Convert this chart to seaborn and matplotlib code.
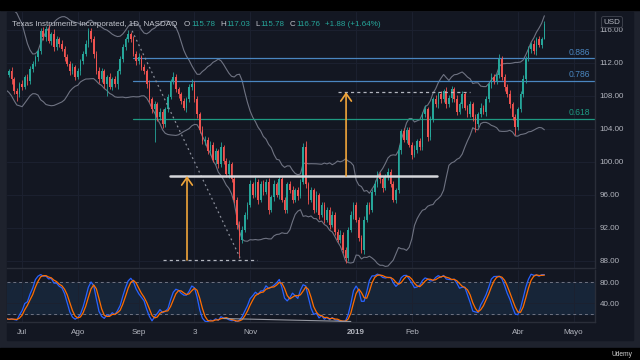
import numpy as np
import pandas as pd
import matplotlib.pyplot as plt
from matplotlib.patches import Rectangle
import seaborn as sns

BG = "#131722"
FRAME = "#1e222d"
GRID = "#1c2130"
SEP = "#2a2e39"
TXT = "#b2b5be"
UP = "#26a69a"
DN = "#ef5350"
ORANGE = "#f0a53a"
FIB_BLUE = "#4a86c0"
FIB_GREEN = "#1e9a82"

# daily bars, bar 0 = 18 Jun 2018, last bar = 15 Apr 2019
# 15 bars before bar 0 only feed the Bollinger / stochastic windows
hist_close = [113.5, 114.8, 115.9, 116.4, 117.2, 116.5, 117.8, 116.9, 115.2, 114.0,
              112.6, 111.3, 112.4, 110.9, 111.8]
hist_wick = [0.5, 0.6, 0.4, 0.7, 0.5, 0.6, 0.4, 0.5, 0.7, 0.5, 0.6, 0.4, 0.5, 0.6, 0.5]

close = [
    112.0, 110.8, 111.5, 110.2, 110.6, 111.0, 110.0, 108.6, 108.2, 109.4,
    109.1, 110.3, 109.8, 111.3, 111.9, 112.7, 113.4, 115.9, 115.1, 116.1,
    114.7, 115.5, 113.9, 114.9, 114.3, 113.7, 112.7, 111.9, 111.0, 111.5,
    110.3, 111.0, 112.2, 113.1, 114.3, 115.9, 114.9, 113.1, 111.0, 110.0,
    111.0, 109.4, 110.3, 109.1, 110.0, 109.4, 111.0, 112.5, 113.9, 114.9,
    115.5, 114.9, 113.1, 112.2, 112.7, 111.5, 111.0, 109.4, 107.6, 106.4,
    107.0, 105.4, 106.1, 104.6, 106.4, 107.9, 109.8, 110.3, 108.8, 108.2,
    107.4, 106.6, 107.6, 109.1, 109.5, 107.6, 105.8, 103.9, 102.5, 102.7,
    101.3, 102.1, 100.3, 101.3, 99.7, 101.8, 100.1, 98.5, 99.7, 97.9,
    95.4, 92.4, 90.6, 91.8, 93.6, 94.8, 97.3, 96.0, 97.6, 95.4,
    97.3, 96.4, 97.6, 94.2, 95.7, 97.3, 96.0, 97.9, 95.4, 94.2,
    97.3, 96.6, 95.4, 96.6, 95.9, 97.6, 101.8, 97.3, 95.4, 96.6,
    94.2, 96.0, 93.6, 94.8, 93.0, 94.2, 92.4, 93.6, 91.5, 90.6,
    91.2, 89.3, 88.4, 91.8, 93.6, 94.8, 93.0, 90.8, 89.3, 93.0,
    94.8, 94.2, 96.4, 97.3, 98.5, 97.9, 96.9, 98.2, 98.8, 97.3,
    95.4, 96.6, 101.5, 103.7, 102.7, 103.9, 102.1, 100.9, 101.5, 102.5,
    101.8, 105.8, 106.4, 103.0, 105.2, 107.6, 107.0, 108.2, 107.6, 108.6,
    107.0, 107.8, 108.8, 107.6, 106.1, 107.0, 108.2, 106.6, 105.8, 107.0,
    105.4, 104.6, 105.8, 106.6, 106.1, 107.6, 109.4, 110.3, 109.8, 110.5,
    112.5, 110.3, 109.1, 108.2, 107.0, 105.4, 104.2, 106.4, 108.2, 110.0,
    112.5, 113.7, 114.3, 113.4, 114.9, 114.2, 114.88, 116.76,
]

wick_up = [
    0.4, 0.6, 0.3, 0.5, 0.4, 0.3, 0.5, 0.3, 0.4, 0.3,
    0.5, 0.3, 0.4, 0.3, 0.4, 0.3, 0.3, 0.4, 0.5, 0.4,
    0.5, 0.3, 0.6, 0.4, 0.3, 0.5, 0.3, 0.4, 0.3, 0.5,
    0.3, 0.4, 0.3, 0.3, 0.5, 0.4, 0.3, 0.4, 0.3, 0.5,
    0.4, 0.3, 0.3, 0.5, 0.3, 0.4, 0.3, 0.3, 0.4, 0.3,
    0.5, 0.3, 0.4, 0.3, 0.5, 0.3, 0.4, 0.3, 0.5, 0.3,
    0.4, 0.3, 0.5, 0.3, 0.3, 0.4, 0.3, 0.6, 0.4, 0.3,
    0.3, 0.4, 0.3, 0.4, 0.5, 0.3, 0.4, 0.3, 0.5, 0.4,
    0.3, 0.5, 0.3, 0.4, 0.3, 0.6, 0.3, 0.4, 0.5, 0.3,
    0.4, 0.3, 0.4, 0.5, 0.3, 0.4, 0.5, 0.3, 0.6, 0.3,
    0.4, 0.5, 0.3, 0.4, 0.3, 0.5, 0.3, 0.4, 0.3, 0.4,
    0.3, 0.4, 0.5, 0.3, 0.4, 0.3, 0.5, 0.7, 0.3, 0.4,
    0.3, 0.5, 0.3, 0.4, 0.3, 0.4, 0.3, 0.5, 0.3, 0.4,
    0.5, 0.3, 0.4, 0.3, 0.5, 0.3, 0.4, 0.3, 0.3, 0.5,
    0.3, 0.4, 0.3, 0.5, 0.4, 0.3, 0.4, 0.3, 0.5, 0.3,
    0.4, 0.3, 0.5, 0.3, 0.4, 0.3, 0.4, 0.3, 0.5, 0.3,
    0.4, 0.3, 0.5, 0.3, 0.4, 0.3, 0.5, 0.3, 0.4, 0.3,
    0.5, 0.3, 0.4, 0.3, 0.5, 0.3, 0.4, 0.3, 0.3, 0.4,
    0.3, 0.4, 0.3, 0.5, 0.3, 0.4, 0.3, 0.5, 0.4, 0.3,
    0.6, 0.3, 0.4, 0.3, 0.5, 0.3, 0.4, 0.3, 0.4, 0.5,
    0.3, 0.4, 0.3, 0.5, 0.3, 0.4, 0.3, 0.27,
]

wick_dn = [
    0.3, 0.5, 0.4, 0.3, 0.4, 0.3, 0.5, 0.4, 0.8, 0.3,
    0.4, 0.3, 0.5, 0.3, 0.4, 0.3, 0.4, 0.3, 0.3, 0.4,
    0.3, 0.5, 0.4, 0.3, 0.4, 0.3, 0.5, 0.3, 0.4, 0.3,
    0.4, 0.3, 0.5, 0.3, 0.3, 0.4, 0.3, 0.5, 0.3, 0.4,
    0.3, 0.4, 1.4, 0.3, 0.4, 0.3, 0.5, 0.3, 0.4, 0.3,
    0.3, 0.4, 0.3, 0.5, 0.3, 0.4, 0.3, 0.4, 0.3, 0.5,
    4.0, 0.4, 0.3, 0.5, 0.3, 0.4, 0.3, 0.4, 0.3, 0.5,
    0.4, 0.3, 0.5, 0.3, 0.4, 0.3, 0.5, 0.4, 0.3, 0.4,
    0.3, 0.4, 0.3, 0.5, 0.4, 0.3, 0.4, 0.3, 0.5, 0.3,
    0.4, 0.5, 2.2, 0.4, 0.3, 0.5, 0.3, 0.4, 0.3, 0.5,
    0.3, 0.4, 0.3, 0.5, 0.3, 0.4, 0.3, 0.5, 0.3, 0.4,
    0.4, 0.3, 0.4, 0.3, 0.5, 0.3, 0.3, 0.4, 0.5, 0.3,
    0.4, 0.3, 0.5, 0.3, 0.4, 0.3, 0.5, 0.3, 0.4, 0.3,
    0.4, 0.3, 0.6, 0.4, 0.3, 0.5, 0.3, 0.4, 0.3, 0.4,
    0.3, 0.5, 0.3, 0.4, 0.3, 0.4, 0.5, 0.3, 0.4, 0.3,
    0.3, 0.4, 0.3, 0.5, 0.3, 0.4, 0.3, 0.5, 0.3, 0.4,
    0.3, 0.4, 0.3, 0.5, 0.3, 0.4, 0.3, 0.4, 0.5, 0.3,
    0.4, 0.3, 0.5, 0.3, 0.4, 0.3, 0.5, 0.3, 0.4, 0.3,
    0.4, 1.0, 0.3, 0.4, 0.3, 0.5, 0.3, 0.4, 0.3, 0.4,
    0.3, 0.4, 0.5, 0.3, 0.4, 0.3, 0.9, 0.3, 0.4, 0.3,
    0.4, 0.3, 0.5, 0.3, 0.4, 0.3, 0.4, 0.0,
]

month_pos = [10, 31, 54, 75, 96, 136, 157, 197, 218]
month_lab = ["Jul", "Ago", "Sep", "3", "Nov", "2019", "Feb", "Abr", "Mayo"]
price_ticks = [88, 92, 96, 100, 104, 108, 112, 116]
stoch_ticks = [40, 80]

fib_low, fib_high = 88.24, 115.70
fib_ratios = [0.886, 0.786, 0.618]
fib_colors = [FIB_BLUE, FIB_BLUE, FIB_GREEN]
fib_start = 51.9

neckline, base, target = 98.30, 88.12, 108.48
neck_span = (65.8, 166.5)
base_span = (63.2, 98.6)
target_span = (129.1, 178.9)
arrow_bars = (72.2, 132.2)
trend_from, trend_to = (51.5, 115.9), (92.2, 88.4)
diverg_from, diverg_to = (86.0, 10.5), (134.0, 4.8)

header = [("Texas Instruments Incorporated, 1D, NASDAQ", "name", 6.0),
          ("O", "name", 0.8), ("115.78", "val", 5.0),
          ("H", "name", 0.8), ("117.03", "val", 5.0),
          ("L", "name", 0.8), ("115.78", "val", 5.0),
          ("C", "name", 0.8), ("116.76", "val", 5.0),
          ("+1.88 (+1.64%)", "val", 0)]

xlim = (4.3, 226.1)

# ---- build OHLC + indicators ----
df = pd.DataFrame({"close": hist_close + close})
df["bar"] = np.arange(len(df)) - len(hist_close)
df["open"] = df["close"].shift(1).fillna(df["close"])
top = df[["open", "close"]].max(axis=1)
bot = df[["open", "close"]].min(axis=1)
df["high"] = top + np.array(hist_wick + wick_up)
df["low"] = bot - np.array(hist_wick + wick_dn)

mid = df["close"].rolling(20, min_periods=1).mean()
sd = df["close"].rolling(20, min_periods=1).std(ddof=0)
df["bb_up"] = mid + 2 * sd
df["bb_lo"] = mid - 2 * sd

ll = df["low"].rolling(14, min_periods=1).min()
hh = df["high"].rolling(14, min_periods=1).max()
raw = 100 * (df["close"] - ll) / (hh - ll)
df["k"] = raw.rolling(3, min_periods=1).mean()
df["d"] = df["k"].rolling(3, min_periods=1).mean()

vis = df[df["bar"] >= 3].reset_index(drop=True)

# ---- figure ----
sns.set_theme(style="dark")
plt.rcParams["font.family"] = ["Liberation Sans", "DejaVu Sans"]
FS = 5.8

fig = plt.figure(figsize=(6.4, 3.6), dpi=100, facecolor=FRAME)


def fx(px):
    return px / 640


def fy(py):
    return 1 - py / 360


fig.patches.append(Rectangle((fx(7), fy(340)), fx(626), 328 / 360,
                             transform=fig.transFigure, color=BG, zorder=-10))
fig.patches.append(Rectangle((0, fy(10)), 1, 10 / 360,
                             transform=fig.transFigure, color="black", zorder=-5))
fig.patches.append(Rectangle((0, 0), 1, 12 / 360,
                             transform=fig.transFigure, color="black", zorder=-5))

ax = fig.add_axes([fx(7), fy(268), fx(588), 256 / 360])
ax2 = fig.add_axes([fx(7), fy(322), fx(588), 52 / 360])

# candles
cols = np.where(vis["close"] >= vis["open"], UP, DN)
ax.vlines(vis["bar"], vis["low"], vis["high"], colors=cols, lw=0.6, zorder=3)
body = (vis["close"] - vis["open"]).abs().clip(lower=0.08)
ax.bar(vis["bar"], body, bottom=vis[["open", "close"]].min(axis=1), width=0.62,
       color=cols, linewidth=0, zorder=3)

# bollinger bands
sns.lineplot(data=vis, x="bar", y="bb_up", ax=ax, color="#6f7382", lw=0.8, zorder=2)
sns.lineplot(data=vis, x="bar", y="bb_lo", ax=ax, color="#6f7382", lw=0.8, zorder=2)

# fib levels
for r, c in zip(fib_ratios, fib_colors):
    lvl = fib_low + r * (fib_high - fib_low)
    ax.plot([fib_start, xlim[1]], [lvl, lvl], color=c, lw=0.9, zorder=2)
    ax.text(224.2, lvl + 0.2, f"{r:.3f}", color=c, fontsize=FS + 0.4,
            ha="right", va="bottom", zorder=5)

# drawings
ax.plot([trend_from[0], trend_to[0]], [trend_from[1], trend_to[1]],
        color="#8a8e9a", lw=0.9, ls=(0, (1.5, 2.5)), zorder=4)
ax.plot(neck_span, [neckline, neckline], color="#d5d6da", lw=1.8, zorder=5)
ax.plot(base_span, [base, base], color="#b2b5be", lw=0.9, ls=(0, (2.5, 2.5)), zorder=4)
ax.plot(target_span, [target, target], color="#b2b5be", lw=0.9, ls=(0, (2.5, 2.5)), zorder=4)
for xb, y0, y1 in [(arrow_bars[0], base, neckline), (arrow_bars[1], neckline, target)]:
    ax.annotate("", xy=(xb, y1), xytext=(xb, y0),
                arrowprops=dict(arrowstyle="->,head_length=0.5,head_width=0.35",
                                color=ORANGE, lw=1.2, mutation_scale=11,
                                shrinkA=0, shrinkB=0), zorder=6)

ax.set_ylim(87.15, 118.18)
ax.set_yticks(price_ticks)
ax.set_yticklabels([f"{v:.2f}" for v in price_ticks])

# stochastic pane
ax2.axhspan(20, 80, color="#172538", zorder=0)
for lvl in (20, 80):
    ax2.axhline(lvl, color="#6f7382", lw=0.7, ls=(0, (3, 3)), zorder=1)
sns.lineplot(data=vis, x="bar", y="k", ax=ax2, color="#2962ff", lw=0.9, zorder=3)
sns.lineplot(data=vis, x="bar", y="d", ax=ax2, color="#ff6d00", lw=0.9, zorder=4)
ax2.plot([diverg_from[0], diverg_to[0]], [diverg_from[1], diverg_to[1]],
         color="#9598a1", lw=0.8, zorder=5)
ax2.set_ylim(3.8, 104)
ax2.set_yticks(stoch_ticks)
ax2.set_yticklabels([f"{v:.2f}" for v in stoch_ticks])

for a in (ax, ax2):
    a.set_facecolor(BG)
    for s in ("top", "left"):
        a.spines[s].set_visible(False)
    for s in ("right", "bottom"):
        a.spines[s].set_color(SEP)
        a.spines[s].set_linewidth(1.0)
    a.set_xlim(*xlim)
    a.set_xticks(month_pos)
    a.grid(True, axis="both", color=GRID, lw=0.7)
    a.yaxis.tick_right()
    a.tick_params(axis="both", length=0, labelcolor=TXT, labelsize=FS, pad=3.5)
    a.set_xlabel("")
    a.set_ylabel("")

ax.set_xticklabels([])
ax2.set_xticklabels(month_lab)
ax2.tick_params(axis="x", pad=5)
for t in ax2.get_xticklabels():
    if t.get_text() == "2019":
        t.set_fontweight("bold")

# header legend, laid out left to right from measured text widths
fig.canvas.draw()
rend = fig.canvas.get_renderer()
xpos = 12.5
for s, kind, gap in header:
    c = "#c3c6ce" if kind == "name" else UP
    t = fig.text(fx(xpos), fy(24.5), s, color=c, fontsize=FS, ha="left", va="center")
    xpos += t.get_window_extent(renderer=rend).width + gap

fig.text(fx(612), fy(22), "USD", color=TXT, fontsize=FS, ha="center", va="center",
         bbox=dict(boxstyle="round,pad=0.25", fc=BG, ec="#434651", lw=0.6))
fig.text(fx(632), fy(354), "Udemy", color="#d0d0d0", fontsize=4.8, ha="right", va="center")

fig.savefig("out.png", dpi=100, facecolor=FRAME)
